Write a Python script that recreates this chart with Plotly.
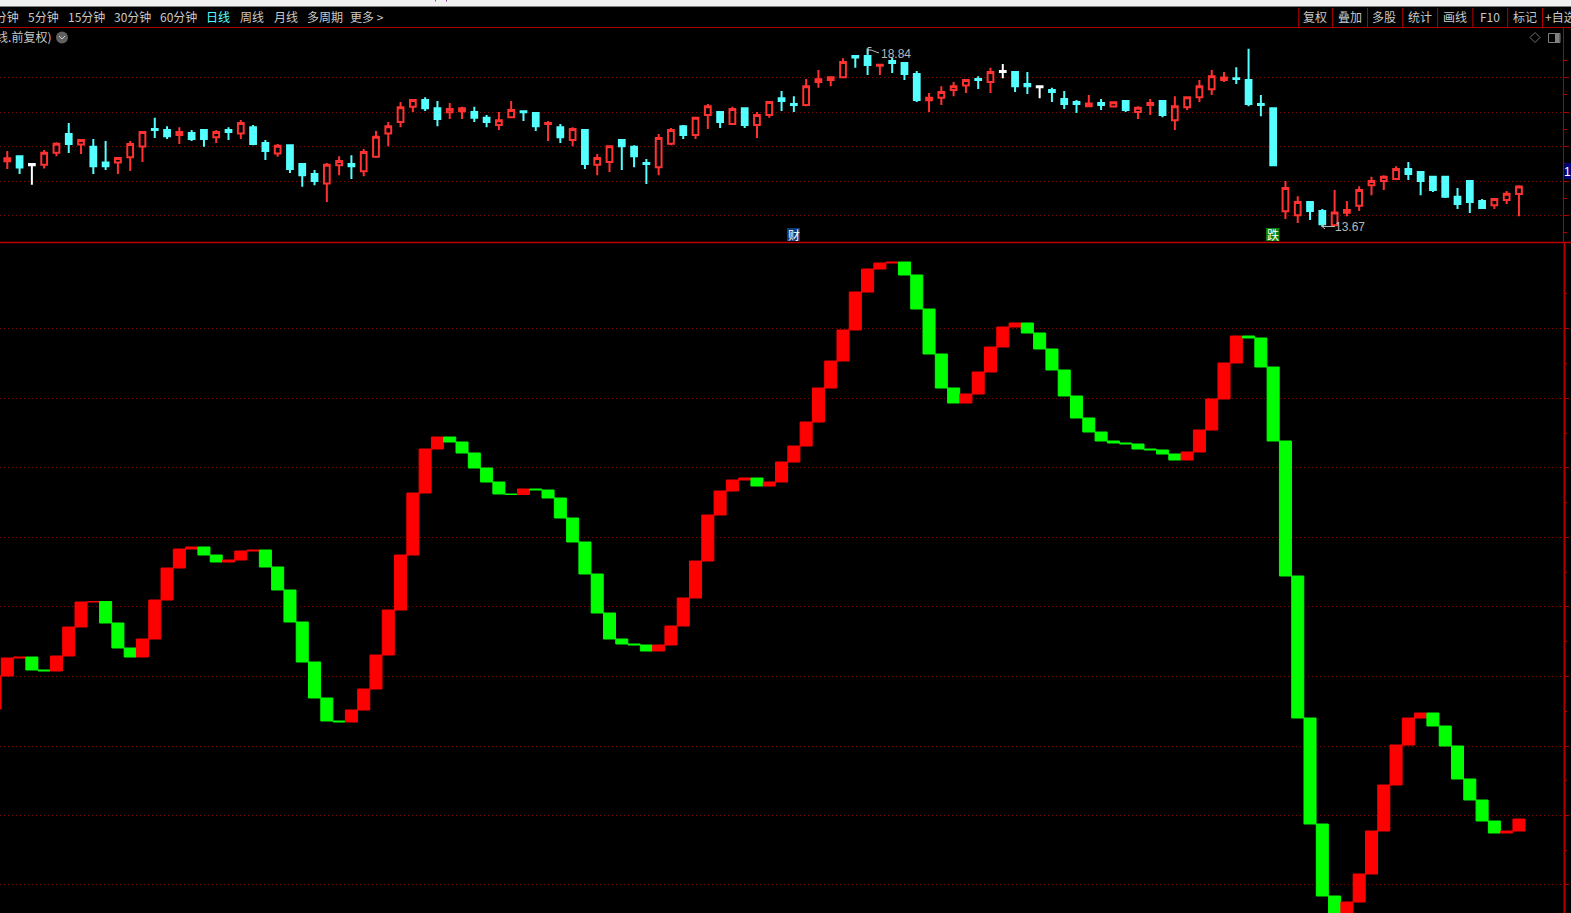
import plotly.graph_objects as go

# ---------- upper pane: daily candles (index 1..124) ----------
OPEN = [15.57,15.72,15.49,15.47,15.82,16.36,16.06,15.99,15.54,15.54,15.69,16.00,16.51,16.48,16.33,16.39,16.48,16.27,16.48,16.38,
16.56,16.10,15.80,16.04,15.49,15.20,14.93,15.46,15.49,15.28,15.70,16.38,16.71,17.15,17.35,17.11,16.99,17.02,17.00,16.83,
16.62,16.85,17.02,16.97,16.65,16.56,16.19,16.48,15.47,15.55,16.19,15.99,15.52,15.40,16.08,16.59,16.33,16.91,17.00,16.65,
17.11,16.62,16.91,17.40,17.23,17.20,17.87,17.93,18.01,18.62,18.62,18.34,18.48,18.42,18.10,17.34,17.41,17.64,17.77,17.96,
17.87,18.19,18.16,17.81,17.75,17.64,17.38,17.29,17.17,17.26,17.16,17.32,17.00,17.20,17.32,16.76,17.14,17.43,17.66,17.93,
17.98,17.93,17.23,17.11,14.12,14.01,14.39,14.13,13.72,14.08,14.28,14.88,15.00,15.06,15.35,15.26,15.12,15.12,14.54,15.00,
14.42,14.30,14.45,14.62]
HIGH = [15.87,15.72,15.49,15.90,16.12,16.68,16.21,16.22,16.16,15.69,16.16,16.45,16.83,16.59,16.56,16.48,16.48,16.48,16.56,16.77,
16.62,16.19,16.07,16.04,15.49,15.32,15.52,15.72,15.75,15.93,16.45,16.71,17.29,17.38,17.43,17.32,17.26,17.15,17.15,16.91,
17.00,17.32,17.03,16.97,16.74,16.65,16.56,16.51,15.78,16.04,16.22,16.04,15.64,16.36,16.54,16.62,16.85,17.23,17.00,17.15,
17.11,17.00,17.32,17.61,17.46,17.96,18.22,18.04,18.56,18.62,18.84,18.39,18.58,18.42,18.19,17.55,17.75,17.87,17.96,18.04,
18.28,18.39,18.16,18.16,17.75,17.70,17.61,17.35,17.49,17.38,17.31,17.32,17.17,17.38,17.32,17.46,17.46,17.93,18.22,18.16,
18.30,18.83,17.49,17.11,15.00,14.56,14.42,14.19,14.74,14.42,14.85,15.12,15.17,15.43,15.55,15.29,15.12,15.12,14.80,15.00,
14.48,14.51,14.71,14.88]
LOW = [15.35,15.20,14.89,15.36,15.72,15.81,15.78,15.20,15.32,15.20,15.29,15.55,16.25,16.22,16.07,16.16,15.99,16.10,16.19,16.22,
16.04,15.61,15.70,15.23,14.83,14.88,14.39,15.17,15.06,15.14,15.70,16.01,16.56,17.00,17.03,16.59,16.80,16.80,16.71,16.56,
16.48,16.83,16.74,16.45,16.16,16.10,16.01,15.35,15.17,15.26,15.32,15.40,14.91,15.17,16.04,16.22,16.22,16.51,16.54,16.62,
16.54,16.25,16.83,17.03,17.00,17.17,17.70,17.75,17.98,18.28,18.07,18.07,18.13,17.93,17.29,17.00,17.20,17.46,17.55,17.67,
17.55,17.98,17.58,17.52,17.40,17.29,17.09,16.97,17.15,17.06,17.14,17.00,16.80,16.91,16.85,16.48,17.06,17.29,17.49,17.87,
17.81,17.17,16.88,15.43,13.90,13.78,13.87,13.67,13.69,13.98,14.13,14.59,14.74,15.03,15.03,14.59,14.68,14.51,14.19,14.07,
14.19,14.19,14.33,13.98]
CLOSE = [15.66,15.39,15.46,15.82,16.08,16.07,16.19,15.43,15.43,15.67,16.07,16.42,16.48,16.30,16.42,16.22,16.22,16.42,16.42,16.68,
16.07,15.87,16.02,15.35,15.17,15.00,15.47,15.58,15.43,15.84,16.28,16.59,17.14,17.35,17.11,16.80,17.09,17.11,16.83,16.71,
16.76,17.06,16.99,16.59,16.68,16.27,16.51,15.49,15.67,16.01,16.01,15.72,15.49,16.25,16.48,16.33,16.83,17.17,16.71,17.09,
16.62,16.91,17.29,17.32,17.20,17.75,17.95,18.01,18.45,18.58,18.36,18.37,18.42,18.10,17.35,17.41,17.58,17.75,17.93,17.93,
18.16,18.16,17.75,17.75,17.72,17.58,17.23,17.23,17.25,17.20,17.28,17.06,17.12,17.26,16.91,17.17,17.43,17.75,18.04,18.00,
17.96,17.23,17.20,15.46,14.80,14.39,14.13,13.75,14.09,14.16,14.74,15.00,15.12,15.35,15.20,15.00,14.74,14.54,14.33,14.39,
14.22,14.48,14.63,14.84]
WHITE_CANDLES = [3, 82, 85]
PRICE_GRID = [18, 17, 16, 15, 14]
PRICE_MINOR = [18.5, 17.5, 16.5, 15.5, 14.5, 13.5]

# ---------- lower pane: stepped indicator (index 0..124), unlabelled scale ----------
INDICATOR_START = 191
INDICATOR = [224,242,243,230,229,244,273,298,298.5,277,252,243,261,300,332,351,353,345,338,340,
349,350,333,310,278,238,202,179,178,190,211,245,290,345,407,451,463,458,447,432,
418,406,405.5,411,410,402,382,358,326,287,261,256,255,249,255,274,302,339,385,409,
420,422,414,418,438,454,478,512,539,570,608,631,637,638,625,591,546,512,497,506,
528,553,573,577,567,551,530,504,482,468,459,457,456,451,450,446,440,448,470,501,
537,564,562,533,459,324,182,76,4,-22,-2,26,69,115,155,182,187,174,154,121,
100,79,67,69,81]
INDICATOR_GRID = [571.5,501.7,432.4,362.6,293.4,223.6,153.8,84.6,15.4]
INDICATOR_MINOR = [606.3,536.6,467,397.5,328,258.5,188.7,119.2,50]

# ---------- interface text ----------
PERIODS = ["1分钟","5分钟","15分钟","30分钟","60分钟","日线","周线","月线","多周期","更多 >"]
TOOLS = ["复权","叠加","多股","统计","画线","F10","标记"]
HIGH_LABEL, LOW_LABEL = "18.84", "13.67"

W, H = 1571, 913
RED, CYAN, WHITE = "#ff3232", "#54ffff", "#ffffff"
BAR_RED, BAR_GREEN = "#ff0000", "#00ff00"
GRID = "#7c0a0a"
RULE = "#b00000"
TXT = "#c8c8c8"
CJK = "Noto Sans CJK SC, Liberation Sans, sans-serif"
px = lambda x: x / W
py = lambda y: 1 - y / H

cx = list(range(1, 125))
def candle_trace(keep, color, fill):
    idx = [k for k, i in enumerate(cx) if keep(i)]
    style = dict(line=dict(color=color, width=2), fillcolor=fill)
    return go.Candlestick(
        x=[cx[k] for k in idx], open=[OPEN[k] for k in idx], high=[HIGH[k] for k in idx],
        low=[LOW[k] for k in idx], close=[CLOSE[k] for k in idx],
        increasing=style, decreasing=style, whiskerwidth=0,
        xaxis="x", yaxis="y", showlegend=False, hoverinfo="skip")

def is_white(i): return i in WHITE_CANDLES
def is_up(i): return CLOSE[i-1] >= OPEN[i-1]

fig = go.Figure()
fig.add_trace(candle_trace(lambda i: not is_white(i) and not is_up(i), CYAN, CYAN))
fig.add_trace(candle_trace(lambda i: not is_white(i) and is_up(i), RED, "#000000"))
fig.add_trace(candle_trace(is_white, WHITE, WHITE))

prev = [INDICATOR_START] + INDICATOR[:-1]
fig.add_trace(go.Bar(
    x=list(range(len(INDICATOR))),
    y=[c - p for c, p in zip(INDICATOR, prev)], base=prev, width=0.98,
    marker=dict(color=[BAR_RED if c >= p else BAR_GREEN for c, p in zip(INDICATOR, prev)],
                line=dict(color=[BAR_RED if c >= p else BAR_GREEN for c, p in zip(INDICATOR, prev)], width=1)),
    xaxis="x2", yaxis="y2", showlegend=False, hoverinfo="skip"))

SPACING = 12.29
x_range = [5 / SPACING, (1563 + 5) / SPACING]
x_dom = [0, 1563 / W]
def x_axis(anchor):
    return dict(domain=x_dom, range=x_range, visible=False, fixedrange=True, anchor=anchor,
                rangeslider=dict(visible=False))
def y_axis(anchor, rng, dom, grid, minor):
    return dict(domain=dom, range=rng, anchor=anchor, side="right", fixedrange=True,
                tickmode="array", tickvals=grid, showticklabels=False, ticks="outside",
                ticklen=5, tickcolor=RULE, tickwidth=1, showgrid=True, gridcolor=GRID,
                griddash="1px,3px", gridwidth=1, zeroline=False, showline=False,
                minor=dict(tickmode="array", tickvals=minor, ticks="outside", ticklen=3,
                           tickcolor=RULE, showgrid=False))

ann = []
def text(x, y, s, color=TXT, size=12, anchor="center", family=CJK):
    ann.append(dict(xref="paper", yref="paper", x=px(x), y=py(y), text=s, showarrow=False, xanchor=anchor,
                    yanchor="middle", font=dict(family=family, size=size, color=color), borderpad=0, borderwidth=0))

# toolbar left
centers = [3.5, 43.5, 86, 132, 178, 218, 252, 285.5, 324.5, 367]
for name, c in zip(PERIODS, centers):
    text(c, 16.5, name, color=CYAN if name == "日线" else TXT)
text(51, 36.5, "(日线.前复权)", anchor="right")
# toolbar right
for name, c in zip(TOOLS, [1315, 1349.5, 1384.4, 1419.6, 1454.5, 1490.4, 1524.6]):
    text(c, 16.5, name)
text(1545, 16.5, "+自选", anchor="left")
# extreme labels
text(881, 53.5, HIGH_LABEL, color="#b8b8b8", anchor="left", family="Liberation Sans")
text(1335, 227, LOW_LABEL, color="#b8b8b8", anchor="left", family="Liberation Sans")
# event tags
text(793.5, 234.5, "财", color="#ffffff", size=12)
text(1273, 234.5, "跌", color="#ffffff", size=12)
text(1567.5, 172, "1", color="#ffffff", anchor="center", family="Liberation Sans")

def rect(x0, y0, x1, y1, fill, line=None, layer="below"):
    return dict(type="rect", xref="paper", yref="paper", x0=px(x0), x1=px(x1), y0=py(y0), y1=py(y1),
                fillcolor=fill, line=dict(color=line or fill, width=1 if line else 0), layer=layer)
def hv(x0, y0, x1, y1, color, width=1):
    return dict(type="line", xref="paper", yref="paper", x0=px(x0), x1=px(x1), y0=py(y0), y1=py(y1),
                line=dict(color=color, width=width), layer="above")
def path(points, color, width=1, close=False):
    d = "M " + " L ".join(f"{px(a)} {py(b)}" for a, b in points) + (" Z" if close else "")
    return dict(type="path", xref="paper", yref="paper", path=d, line=dict(color=color, width=width))

MARK = "#b8b8b8"
shapes = [
    rect(0, 0, W, 6, "#f0f0f0"),
    hv(0, 6.5, W, 6.5, "#808080"),
    rect(435, 0, 436, 1.5, "#c04040"),
    rect(446, 0, 447, 1.5, "#804090"),
    hv(0, 27.5, W, 27.5, RULE),
    hv(0, 242.5, W, 242.5, "#c00000", 1.5),
    hv(1563.5, 27, 1563.5, 243, RULE, 1),
    hv(1564.5, 243, 1564.5, H, RULE, 2),
    rect(787, 228, 800, 241, "#0f3c78", layer="above"),
    rect(1266, 228, 1279.5, 241, "#0a7f0a", layer="above"),
    rect(1564.5, 163, W, 179, "#000080", layer="above"),
    dict(type="circle", xref="paper", yref="paper", x0=px(56), x1=px(68), y0=py(31.5), y1=py(43.5),
         fillcolor="#606060", line=dict(width=0)),
    path([(59, 36), (62, 39), (65, 36)], "#d0d0d0"),
    path([(1530, 37.5), (1535, 32.5), (1540, 37.5), (1535, 42.5)], "#707070", close=True),
    rect(1548.5, 33.5, 1560, 42.5, "#000000", "#808080"),
    rect(1555, 34, 1559.5, 42, "#808080"),
    # flag mark beside the high label
    path([(871.5, 47.5), (868, 47.5), (868, 54)], MARK),
    path([(868, 50), (871, 50), (879, 53)], MARK),
    # arrow beside the low label
    path([(1335, 226.5), (1322, 226.5), (1325, 224), (1322, 226.5), (1325, 229)], MARK),
]
for xs in [1298.7, 1332.6, 1367.5, 1402.7, 1437.6, 1472.8, 1507.7, 1542.5]:
    shapes.append(hv(xs, 8, xs, 27, RULE))

fig.update_layout(
    width=W, height=H, margin=dict(l=0, r=0, t=0, b=0), autosize=False,
    paper_bgcolor="#000000", plot_bgcolor="#000000", showlegend=False,
    barmode="overlay", boxgap=0.33, dragmode=False, hovermode=False,
    xaxis=x_axis("y"), xaxis2=x_axis("y2"),
    yaxis=y_axis("x", [13.232, 19.464], [1 - 242 / H, 1 - 27 / H], PRICE_GRID, PRICE_MINOR),
    yaxis2=y_axis("x2", [-13, 657], [0, 1 - 243 / H], INDICATOR_GRID, INDICATOR_MINOR),
    shapes=shapes, annotations=ann)

fig.write_html("out.html", include_plotlyjs=True, config=dict(displayModeBar=False),
               post_script="document.body.style.margin='0';document.body.style.overflow='hidden';document.body.style.background='#000';")
